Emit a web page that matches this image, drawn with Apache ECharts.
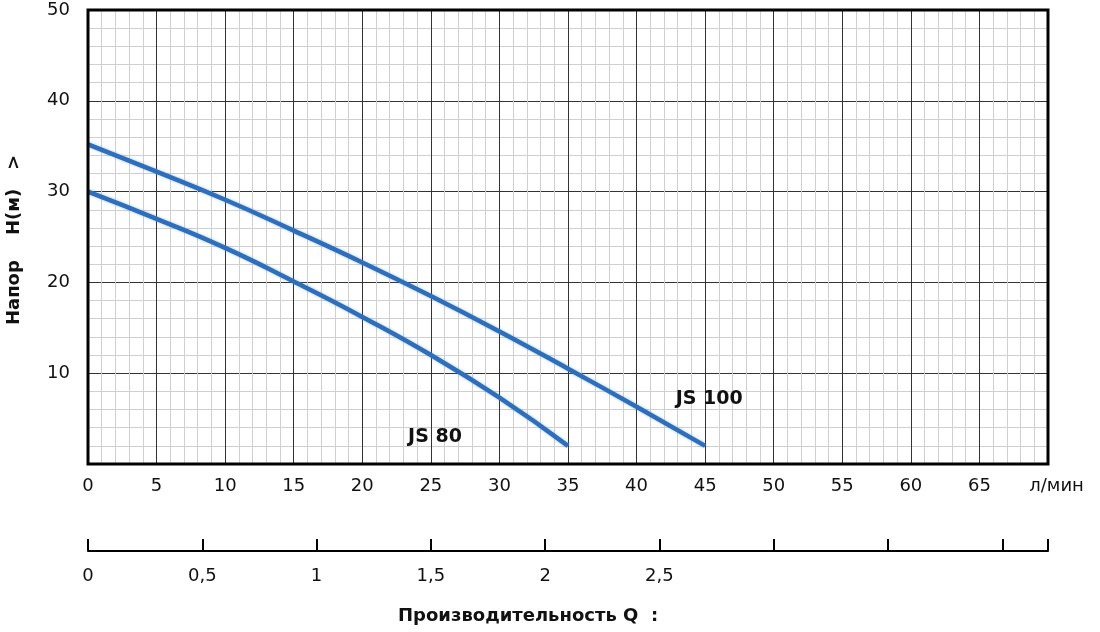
<!DOCTYPE html><html><head><meta charset="utf-8">
<script src="https://cdn.jsdelivr.net/npm/echarts@6/dist/echarts.min.js"></script>
<style>html,body{margin:0;background:#fff}#c{width:1100px;height:632px}</style></head><body><div id="c"></div>
<script>
const flowLmin = [0,5,10,15,20,25,30,35,40,45];
const js100 = [35.2,32.2,29.1,25.7,22.2,18.5,14.6,10.5,6.3,2.0];
const js80 = [30.0,27.0,23.8,20.1,16.2,12.0,7.3,2.0];
const seriesNames = ['JS 100','JS 80'];
const font = 'DejaVu Sans';
const chart = echarts.init(document.getElementById('c'));
const lineStyle = {color:'#2e6fbd',width:4.5,shadowColor:'rgba(80,150,230,0.5)',shadowBlur:3};
chart.setOption({
  animation:false,
  grid:{left:88,right:52,top:10,bottom:168,show:true,borderColor:'#000',borderWidth:3,z:5},
  xAxis:[{
    type:'value',min:0,max:70,interval:5,
    axisLine:{show:false},axisTick:{show:false},
    axisLabel:{color:'#111',fontFamily:font,fontSize:18,margin:13,
      formatter:v=>v===70?'   л/мин':String(v)},
    splitLine:{show:true,lineStyle:{color:'#333',width:1}},
    minorTick:{show:false,splitNumber:5},
    minorSplitLine:{show:true,lineStyle:{color:'#cfcfcf',width:1}}
  },{
    type:'value',min:0,max:4.2,interval:0.5,position:'bottom',offset:87,
    axisLine:{show:true,onZero:false,lineStyle:{color:'#000',width:2}},
    axisTick:{show:true,inside:true,length:12,lineStyle:{color:'#000',width:2}},
    splitLine:{show:false},
    axisLabel:{color:'#111',fontFamily:font,fontSize:18,margin:16,
      formatter:v=>v<=2.5?String(v).replace('.',','):''}
  }],
  yAxis:{
    type:'value',min:0,max:50,interval:10,
    axisLine:{show:false},axisTick:{show:false},
    axisLabel:{color:'#111',fontFamily:font,fontSize:18,margin:18,formatter:v=>v===0?'':String(v)},
    splitLine:{show:true,lineStyle:{color:'#333',width:1}},
    minorTick:{show:false,splitNumber:5},
    minorSplitLine:{show:true,lineStyle:{color:'#cfcfcf',width:1}}
  },
  series:[
    {name:seriesNames[0],type:'line',smooth:true,showSymbol:false,lineStyle,data:js100.map((v,i)=>[flowLmin[i],v]),z:3},
    {name:seriesNames[1],type:'line',smooth:true,showSymbol:false,lineStyle,data:js80.map((v,i)=>[flowLmin[i],v]),z:3}
  ]
});
const p1 = chart.convertToPixel({gridIndex:0},[45.3,7.2]);
const p2 = chart.convertToPixel({gridIndex:0},[25.3,3.0]);
chart.setOption({graphic:[
  {type:'text',x:p1[0],y:p1[1],style:{text:seriesNames[0],font:'bold 19px '+font,fill:'#111',textAlign:'center',textVerticalAlign:'middle'}},
  {type:'text',x:p2[0],y:p2[1],style:{text:seriesNames[1],font:'bold 19px '+font,fill:'#111',textAlign:'center',textVerticalAlign:'middle'}},
  {type:'text',left:398,top:607,style:{text:'Производительность Q  :',font:'bold 18px '+font,fill:'#111'}},
  {type:'text',x:14,y:240,rotation:Math.PI/2,style:{text:'Напор    H(м)   >',font:'bold 18px '+font,fill:'#111',textAlign:'center',textVerticalAlign:'middle'}}
]});
</script></body></html>
